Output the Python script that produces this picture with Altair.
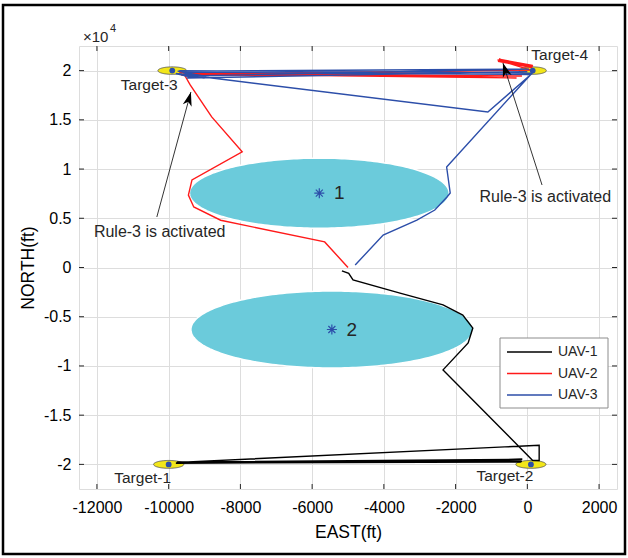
import math
import altair as alt
import numpy as np
import pandas as pd

# ---------------- plot frame ----------------
W, H = 538, 443
X_DOMAIN = [-12500, 2500]
Y_DOMAIN = [-22500, 22500]
x_ticks = [-12000, -10000, -8000, -6000, -4000, -2000, 0, 2000]
y_ticks = [-20000, -15000, -10000, -5000, 0, 5000, 10000, 15000, 20000]

FONT = "Liberation Sans"
INK = "#262626"

# ---------------- data ----------------
uav_names = ["UAV-1", "UAV-2", "UAV-3"]
uav_colors = ["#000000", "#ff1a1a", "#2c4ea9"]

# circular no-fly zones (ft)
obs_label = ["1", "2"]
obs_cx = [-5800, -5450]
obs_cy = [7550, -6300]
obs_rx = [3620, 3930]
obs_ry = [3560, 3910]

# targets (ft)
tgt_label = ["Target-1", "Target-2", "Target-3", "Target-4"]
tgt_x = [-10000, 100, -9900, 150]
tgt_y = [-20000, -20000, 20000, 20000]
tgt_rx = [420, 420, 400, 380]
tgt_ry = [400, 400, 380, 380]

# UAV-1 track
uav1_x = [-5170, -4980, -4860, -3550, -2350, -1800, -1520, -1650, -2350, 150, 330, 330,
          -9750, -200, -9780, -150, -9760, -250, -9800, -180, -9750, -220, -9790, -160,
          -9770, -140, -9800, -200, -9760, -170, -9790, -230]
uav1_y = [-350, -600, -1270, -2600, -3800, -4830, -6150, -7670, -10400, -19600, -19600, -18050,
          -19800, -19560, -19840, -19700, -19800, -19620, -19870, -19760, -19820, -19500, -19850, -19650,
          -19780, -19480, -19880, -19720, -19760, -19540, -19860, -19600]

# UAV-2 track
uav2_x = [-5000, -5650, -8550, -9300, -9450, -9350, -7950, -8800, -9400, -9550, -100, -9650,
          -150, -9700, -300, -9600, 100, -800, 150, -820, 130, -780, 160, -800, 140, -830, 120,
          -790, 150]
uav2_y = [0, 2600, 4800, 6150, 7350, 8900, 11750, 15300, 18550, 19500, 20050, 19550,
          19450, 19800, 19250, 19650, 20050, 21050, 20400, 20950, 20300, 21120, 20480, 21000,
          20360, 21080, 20440, 21150, 20520]

# UAV-3 track
uav3_x = [-4800, -4020, -3080, -2580, -2240, -2150, -2250, 130, -9700, -9300, -9000, -9450,
          -9800, -1100, 100, -9600, -9000, -9550, 50, -9750, -8950, -9500, 0]
uav3_y = [250, 3300, 4820, 5840, 7160, 7570, 10200, 19750, 20000, 19350, 19250, 19400,
          19700, 15800, 19600, 19850, 19300, 19450, 20150, 19950, 19400, 19250, 19900]

# "Rule-3 is activated" call-outs: arrow tail, arrow tip, text anchor (ft)
ann_text = ["Rule-3 is activated", "Rule-3 is activated"]
ann_tail_x = [-10330, 410]
ann_tail_y = [5130, 8380]
ann_tip_x = [-9380, -680]
ann_tip_y = [17830, 20770]
ann_text_x = [-10250, 500]
ann_text_y = [3600, 7160]

# ---------------- helpers ----------------
xs = alt.Scale(domain=X_DOMAIN, nice=False, zero=False)
ys = alt.Scale(domain=Y_DOMAIN, nice=False, zero=False)

x_axis = alt.Axis(values=x_ticks, title="EAST(ft)", grid=True, ticks=False, domain=False,
                  labelExpr="datum.value + ''",
                  labelFontSize=16, labelPadding=10, titleFontSize=17.5, titlePadding=8,
                  titleFontWeight="normal", labelFlush=False)
y_axis = alt.Axis(values=y_ticks, title="NORTH(ft)", grid=True, ticks=False, domain=False,
                  labelExpr="datum.value / 10000 + ''",
                  labelFontSize=16, labelPadding=8, titleFontSize=17.5, titlePadding=6,
                  titleFontWeight="normal", labelFlush=False)


def X(field):
    return alt.X(field, type="quantitative", scale=xs, axis=x_axis)


def Y(field):
    return alt.Y(field, type="quantitative", scale=ys, axis=y_axis)


def ellipse_frame(names, cx, cy, rx, ry, n=120):
    rows = []
    for k, name in enumerate(names):
        for t in np.linspace(math.pi, 0, n):
            rows.append({"id": name,
                         "x": cx[k] + rx[k] * math.cos(t),
                         "y": cy[k] + ry[k] * math.sin(t),
                         "y2": cy[k] - ry[k] * math.sin(t)})
    return pd.DataFrame(rows)


# ---------------- layers ----------------
obstacles = alt.Chart(ellipse_frame(obs_label, obs_cx, obs_cy, obs_rx, obs_ry)).mark_area(
    color="#6bcbdb", stroke="white", strokeWidth=1.5
).encode(x=X("x"), y=Y("y"), y2="y2", detail="id:N")

targets = alt.Chart(ellipse_frame(tgt_label, tgt_x, tgt_y, tgt_rx, tgt_ry, 60)).mark_area(
    color="#f2e61a", stroke="#4d4d4d", strokeWidth=0.8
).encode(x=X("x"), y=Y("y"), y2="y2", detail="id:N")

tracks = []
for name, color, tx, ty in zip(uav_names, uav_colors, [uav1_x, uav2_x, uav3_x], [uav1_y, uav2_y, uav3_y]):
    df = pd.DataFrame({"x": tx, "y": ty, "i": range(len(tx))})
    tracks.append(alt.Chart(df).mark_line(color=color, strokeWidth=1.4).encode(
        x=X("x"), y=Y("y"), order="i:Q"))

tgt_df = pd.DataFrame({"name": tgt_label, "x": tgt_x, "y": tgt_y})
tgt_dots = alt.Chart(tgt_df).mark_circle(color="#2c4ea9", opacity=1, size=34).encode(x=X("x"), y=Y("y"))

label_style = dict(font=FONT, fontSize=15.5, color=INK, baseline="middle", align="center")
tgt_text = [
    alt.Chart(tgt_df.iloc[[0]]).mark_text(dx=-26, dy=14, **label_style).encode(x=X("x"), y=Y("y"), text="name"),
    alt.Chart(tgt_df.iloc[[1]]).mark_text(dx=-26, dy=12, **label_style).encode(x=X("x"), y=Y("y"), text="name"),
    alt.Chart(tgt_df.iloc[[2]]).mark_text(dx=-23, dy=14, **label_style).encode(x=X("x"), y=Y("y"), text="name"),
    alt.Chart(tgt_df.iloc[[3]]).mark_text(dx=27, dy=-16, **label_style).encode(x=X("x"), y=Y("y"), text="name"),
]

obs_df = pd.DataFrame({"name": obs_label, "x": obs_cx, "y": obs_cy})
ASTERISK = "M0,-1L0,1M-1,0L1,0M-0.7,-0.7L0.7,0.7M-0.7,0.7L0.7,-0.7"
obs_stars = alt.Chart(obs_df).mark_point(shape=ASTERISK, filled=False, size=100, strokeWidth=1.2,
                                         color="#2c4ea9", opacity=1).encode(x=X("x"), y=Y("y"))
obs_text = alt.Chart(obs_df).mark_text(dx=20, font=FONT, fontSize=19, color=INK, align="center",
                                       baseline="middle").encode(x=X("x"), y=Y("y"), text="name")

# call-out arrows
px_x = W / (X_DOMAIN[1] - X_DOMAIN[0])
px_y = H / (Y_DOMAIN[1] - Y_DOMAIN[0])
ann_angle = []
for k in range(len(ann_text)):
    dxp = (ann_tip_x[k] - ann_tail_x[k]) * px_x
    dyp = (ann_tip_y[k] - ann_tail_y[k]) * px_y
    ann_angle.append(math.degrees(math.atan2(dxp, dyp)) % 360)

ann_df = pd.DataFrame({"text": ann_text, "x": ann_tail_x, "y": ann_tail_y,
                       "x2": ann_tip_x, "y2": ann_tip_y, "tx": ann_text_x, "ty": ann_text_y,
                       "angle": ann_angle})
arrow_lines = alt.Chart(ann_df).mark_rule(color="black", strokeWidth=0.8).encode(
    x=X("x"), y=Y("y"), x2="x2", y2="y2")
ARROW_HEAD = "M0,0L0.65,2L0,1.45L-0.65,2Z"
arrow_heads = alt.Chart(ann_df).mark_point(shape=ARROW_HEAD, filled=True, size=196, color="black",
                                           opacity=1).encode(
    x=X("x2"), y=Y("y2"), angle=alt.Angle("angle:Q", scale=None))
ann_labels = alt.Chart(ann_df).mark_text(font=FONT, fontSize=16, color=INK, align="center",
                                         baseline="middle").encode(x=X("tx"), y=Y("ty"), text="text")

# inward tick marks on all four sides
xt = pd.DataFrame({"v": x_ticks})
yt = pd.DataFrame({"v": y_ticks})
TICK = 5
tick_style = dict(color=INK, strokeWidth=1)
ticks = [
    alt.Chart(xt).mark_rule(**tick_style).encode(x=X("v"), y=alt.value(H), y2=alt.value(H - TICK)),
    alt.Chart(xt).mark_rule(**tick_style).encode(x=X("v"), y=alt.value(0), y2=alt.value(TICK)),
    alt.Chart(yt).mark_rule(**tick_style).encode(y=Y("v"), x=alt.value(0), x2=alt.value(TICK)),
    alt.Chart(yt).mark_rule(**tick_style).encode(y=Y("v"), x=alt.value(W), x2=alt.value(W - TICK)),
]

# exponent note above the y axis
one = pd.DataFrame({"k": [0]})
exp_base = alt.Chart(one).mark_text(text="×10", font=FONT, fontSize=15, color=INK, align="left",
                                    baseline="middle").encode(x=alt.value(4), y=alt.value(-9))
exp_pow = alt.Chart(one).mark_text(text="4", font=FONT, fontSize=11, color=INK, align="left",
                                   baseline="middle").encode(x=alt.value(31), y=alt.value(-17))

# legend box
LEG_X0, LEG_X1, LEG_Y0, LEG_Y1 = 421, 529, 292, 362
legend_parts = [
    alt.Chart(one).mark_rect(fill="white", stroke="#8c8c8c", strokeWidth=1).encode(
        x=alt.value(LEG_X0), x2=alt.value(LEG_X1), y=alt.value(LEG_Y0), y2=alt.value(LEG_Y1))
]
for k, (name, color) in enumerate(zip(uav_names, uav_colors)):
    yy = 306 + k * 21.5
    legend_parts.append(alt.Chart(one).mark_rule(color=color, strokeWidth=1.6).encode(
        x=alt.value(428), x2=alt.value(473), y=alt.value(yy)))
    legend_parts.append(alt.Chart(one).mark_text(text=name, font=FONT, fontSize=14, color=INK,
                                                 align="left", baseline="middle").encode(
        x=alt.value(479), y=alt.value(yy)))

# outer figure border
border = alt.Chart(one).mark_rect(fill="transparent", stroke="black", strokeWidth=2.5).encode(
    x=alt.value(-76), x2=alt.value(546), y=alt.value(-41), y2=alt.value(508))

chart = alt.layer(
    obstacles, targets, *tracks, tgt_dots, obs_stars, obs_text, *tgt_text,
    arrow_lines, arrow_heads, ann_labels, *ticks, exp_base, exp_pow, *legend_parts, border
).properties(
    width=W, height=H,
    autosize=alt.AutoSizeParams(type="none"),
    padding={"left": 79, "top": 46, "right": 11, "bottom": 69},
).configure_view(
    stroke=INK, strokeWidth=1
).configure_axis(
    labelFont=FONT, titleFont=FONT, labelColor=INK, titleColor=INK, gridColor="#e3e3e3", gridWidth=1
).configure(background="white")

chart.save("out.html", embed_options={"renderer": "svg", "actions": False})
